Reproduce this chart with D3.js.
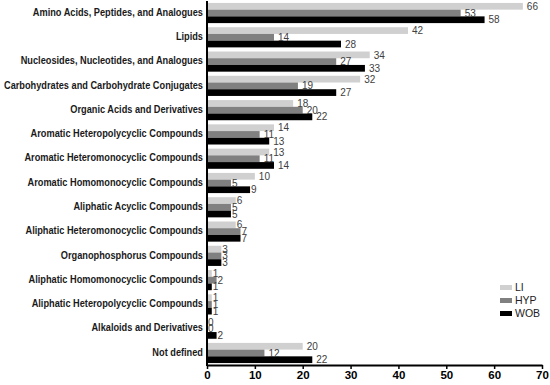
<!DOCTYPE html>
<html>
<head>
<meta charset="utf-8">
<script src="https://cdn.jsdelivr.net/npm/d3@7"></script>
<style>
  body { margin: 0; background: #fff; }
  svg { display: block; font-family: "Liberation Sans", Arial, sans-serif; }
</style>
</head>
<body>
<div id="chart"></div>
<script>
const categories = [
  "Amino Acids, Peptides, and Analogues",
  "Lipids",
  "Nucleosides, Nucleotides, and Analogues",
  "Carbohydrates and Carbohydrate Conjugates",
  "Organic Acids and Derivatives",
  "Aromatic Heteropolycyclic Compounds",
  "Aromatic Heteromonocyclic Compounds",
  "Aromatic Homomonocyclic Compounds",
  "Aliphatic Acyclic Compounds",
  "Aliphatic Heteromonocyclic Compounds",
  "Organophosphorus Compounds",
  "Aliphatic Homomonocyclic Compounds",
  "Aliphatic Heteropolycyclic Compounds",
  "Alkaloids and Derivatives",
  "Not defined"
];
const seriesNames = ["LI", "HYP", "WOB"];
const li  = [66, 42, 34, 32, 18, 14, 13, 10, 6, 6, 3, 1, 1, 0, 20];
const hyp = [53, 14, 27, 19, 20, 11, 11, 5, 5, 7, 3, 2, 1, 0, 12];
const wob = [58, 28, 33, 27, 22, 13, 14, 9, 5, 7, 3, 1, 1, 2, 22];
const xTicks = [0, 10, 20, 30, 40, 50, 60, 70];
const colors = ["#d0d0d0", "#808080", "#000000"];

const width = 550, height = 385;
const plotLeft = 207, plotRight = 542, plotTop = 1, plotBottom = 365;

const svg = d3.select("#chart").append("svg")
  .attr("width", width)
  .attr("height", height);

const x = d3.scaleLinear().domain([0, 70]).range([plotLeft, plotRight]);
const y = d3.scaleBand().domain(categories).range([plotTop, plotBottom])
  .paddingInner(0.17).paddingOuter(0.08);
const ySub = d3.scaleBand().domain(seriesNames).range([0, y.bandwidth()]);

const rows = categories.map((c, i) => ({ cat: c, vals: [li[i], hyp[i], wob[i]] }));

const group = svg.selectAll("g.cat")
  .data(rows)
  .enter().append("g")
  .attr("class", "cat")
  .attr("transform", d => `translate(0,${y(d.cat)})`);

group.selectAll("rect")
  .data(d => d.vals.map((v, k) => ({ v, k })))
  .enter().append("rect")
  .attr("x", x(0))
  .attr("y", d => ySub(seriesNames[d.k]))
  .attr("width", d => x(d.v) - x(0))
  .attr("height", ySub.bandwidth())
  .attr("fill", d => colors[d.k]);

group.selectAll("text.val")
  .data(d => d.vals.map((v, k) => ({ v, k })))
  .enter().append("text")
  .attr("class", "val")
  .attr("x", d => x(d.v) + (d.v >= 10 ? 4 : 1))
  .attr("y", d => ySub(seriesNames[d.k]) + ySub.bandwidth() / 2 + 1)
  .attr("dominant-baseline", "middle")
  .attr("font-size", "10px")
  .attr("fill", "#404040")
  .text(d => d.v);

// category labels, squeezed to look like the narrow original font
const labels = svg.selectAll("text.catlabel")
  .data(categories)
  .enter().append("text")
  .attr("class", "catlabel")
  .attr("x", plotLeft - 4)
  .attr("y", d => y(d) + y.bandwidth() / 2)
  .attr("dominant-baseline", "middle")
  .attr("text-anchor", "end")
  .attr("font-size", "10.5px")
  .attr("font-weight", "bold")
  .attr("fill", "#1a1a1a")
  .text(d => d);

let longest = 0;
labels.each(function () { longest = Math.max(longest, this.getComputedTextLength()); });
const squeeze = 199 / longest;
labels.each(function () {
  const w = this.getComputedTextLength();
  d3.select(this).attr("textLength", w * squeeze).attr("lengthAdjust", "spacingAndGlyphs");
});

// x axis
const xAxis = svg.append("g")
  .attr("transform", `translate(0,${plotBottom})`)
  .call(d3.axisBottom(x).tickValues(xTicks).tickSize(4).tickSizeOuter(0));
xAxis.select(".domain").attr("stroke", "#000").attr("stroke-width", 2);
xAxis.selectAll(".tick line").attr("stroke", "#000").attr("stroke-width", 1.5);
xAxis.selectAll(".tick text")
  .attr("font-family", "Liberation Sans, Arial, sans-serif")
  .attr("font-size", "11.5px")
  .attr("font-weight", "bold")
  .attr("fill", "#000")
  .attr("dy", "0.6em");

// y axis line
svg.append("line")
  .attr("x1", x(0)).attr("x2", x(0))
  .attr("y1", plotTop).attr("y2", plotBottom + 1)
  .attr("stroke", "#000")
  .attr("stroke-width", 2);

// legend
const legend = svg.append("g").attr("transform", "translate(500,285)");
const item = legend.selectAll("g")
  .data(seriesNames)
  .enter().append("g")
  .attr("transform", (d, i) => `translate(0,${i * 13})`);
item.append("rect")
  .attr("width", 12).attr("height", 5)
  .attr("fill", (d, i) => colors[i]);
item.append("text")
  .attr("x", 15).attr("y", 3)
  .attr("dominant-baseline", "middle")
  .attr("font-size", "10.5px")
  .attr("fill", "#222")
  .text(d => d);
</script>
</body>
</html>
